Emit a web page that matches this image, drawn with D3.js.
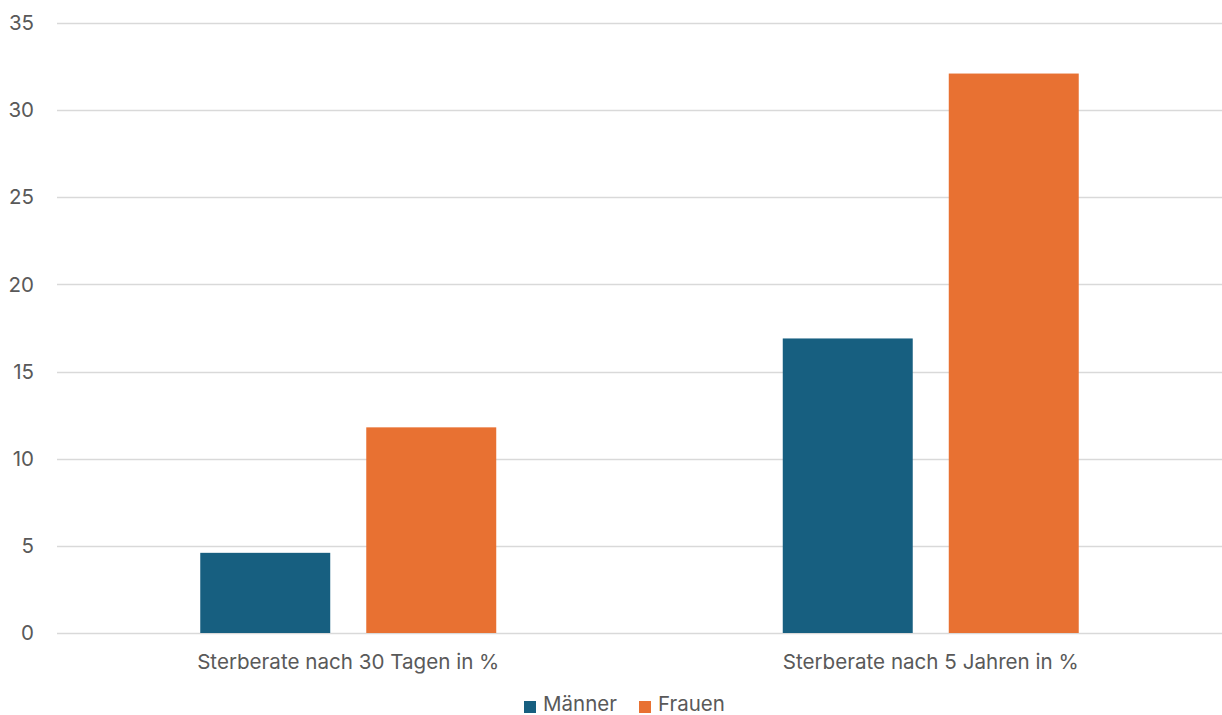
<!DOCTYPE html>
<html>
<head>
<meta charset="utf-8">
<script src="https://cdn.jsdelivr.net/npm/d3@7"></script>
<style>
  html, body { margin: 0; padding: 0; background: #fff; }
  svg { display: block; }
  text { font-family: "Inter", "Open Sans", sans-serif; fill: #595959; }
</style>
</head>
<body>
<svg id="chart" width="1222" height="715"></svg>
<script>
const categories = ["Sterberate nach 30 Tagen in %", "Sterberate nach 5 Jahren in %"];
const seriesNames = ["Männer", "Frauen"];
const maenner = [4.6, 16.9];
const frauen = [11.8, 32.1];
const yTicks = [0, 5, 10, 15, 20, 25, 30, 35];
const colors = ["#175f80", "#e87132"];

const seriesValues = [maenner, frauen];
const svg = d3.select("#chart");

const y = d3.scaleLinear().domain([0, 35]).range([633, 23]);
const x0 = d3.scaleBand().domain(categories).range([57, 1222]).padding(0);
const x1 = d3.scaleBand().domain(seriesNames).range([0, x0.bandwidth()])
  .paddingInner(0.217).paddingOuter(0.863);

// gridlines
svg.append("g").selectAll("line").data(yTicks).join("line")
  .attr("x1", 57).attr("x2", 1222)
  .attr("y1", d => Math.round(y(d)) + 0.5).attr("y2", d => Math.round(y(d)) + 0.5)
  .attr("stroke", "#d9d9d9").attr("stroke-width", 1.3);

// y labels
svg.append("g").selectAll("text").data(yTicks).join("text")
  .attr("x", 34).attr("y", d => y(d)).attr("dy", "0.35em")
  .attr("text-anchor", "end").attr("font-size", 20.5).text(d => d);

// bars
const groups = svg.append("g").selectAll("g").data(categories).join("g")
  .attr("transform", c => `translate(${x0(c)},0)`);
groups.selectAll("rect")
  .data((c, ci) => seriesNames.map((s, si) => ({ s, si, v: seriesValues[si][ci] })))
  .join("rect")
  .attr("x", d => x1(d.s)).attr("width", x1.bandwidth())
  .attr("y", d => y(d.v)).attr("height", d => y(0) - y(d.v))
  .attr("fill", d => colors[d.si]);

// category labels
svg.append("g").selectAll("text").data(categories).join("text")
  .attr("x", c => x0(c) + x0.bandwidth() / 2).attr("y", 669)
  .attr("text-anchor", "middle").attr("font-size", 20.6).text(c => c);

// legend
const leg = svg.append("g");
const legX = [524, 639];
seriesNames.forEach((s, i) => {
  leg.append("rect").attr("x", legX[i]).attr("y", 701).attr("width", 12).attr("height", 12)
    .attr("fill", colors[i]);
  leg.append("text").attr("x", legX[i] + 19).attr("y", 711).attr("font-size", 20.5).text(s);
});
</script>
</body>
</html>
